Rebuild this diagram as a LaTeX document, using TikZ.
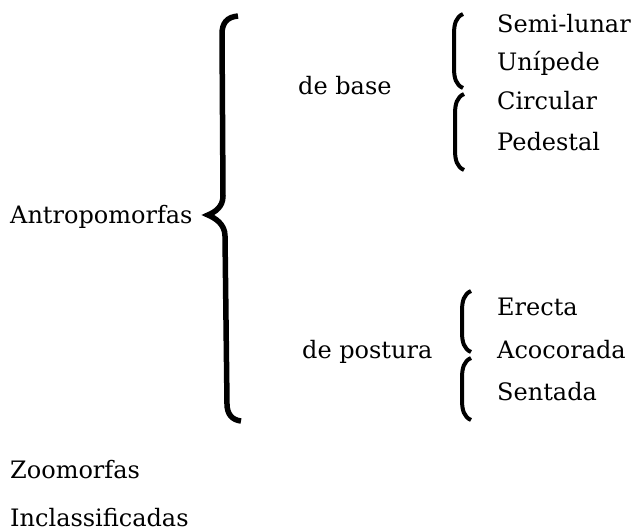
\documentclass[tikz,border=0pt]{standalone}
\usepackage{fontspec}
\setmainfont{DejaVu Serif}
\usetikzlibrary{positioning}
\tikzset{
    lbl/.style={
        anchor=base west,
        inner sep=0pt,
        font=\fontsize{24}{28}\selectfont
    },
    bigbrace/.style={draw=black,line width=5.5pt,line cap=butt},
    subbrace/.style={draw=black,line width=4pt,line cap=butt}
}
\begin{document}
\begin{tikzpicture}[x=1pt,y=-1pt]
\useasboundingbox (0,0) rectangle (632,532);

\node[lbl] (antro) at (10,223) {Antropomorfas};
\node[lbl] (base) at (298,95) {de base};
\node[lbl] (postura) at (302,358) {de postura};

\node[lbl] (semi) at (497,33) {Semi-lunar};
\node[lbl] (uni) at (497,71) {Unípede};
\node[lbl] (circ) at (497,110) {Circular};
\node[lbl] (ped) at (497,150) {Pedestal};

\node[lbl] (erecta) at (497,315) {Erecta};
\node[lbl] (acoc) at (497,358) {Acocorada};
\node[lbl] (sent) at (497,400) {Sentada};

\node[lbl] (zoo) at (10,478) {Zoomorfas};
\node[lbl] (incl) at (10,526) {Inclassificadas};

% main brace
\draw[bigbrace] (238,16) .. controls (227,17) and (222,23) .. (222,34)
    -- (223,196) .. controls (223,207) and (215,212) .. (208,215)
    .. controls (215,218) and (225,224) .. (225,236)
    -- (227,404) .. controls (227,414) and (232,420) .. (241,421);

% sub braces
\foreach \px/\pt/\pb in {454/14/88, 455/94/170, 462/291/352, 462/358/420}
    \draw[subbrace] (\px+9,\pt) .. controls (\px+2,\pt+3) and (\px,\pt+10) .. (\px,\pt+20)
        -- (\px,\pb-20) .. controls (\px,\pb-10) and (\px+2,\pb-3) .. (\px+9,\pb);
\end{tikzpicture}
\end{document}
